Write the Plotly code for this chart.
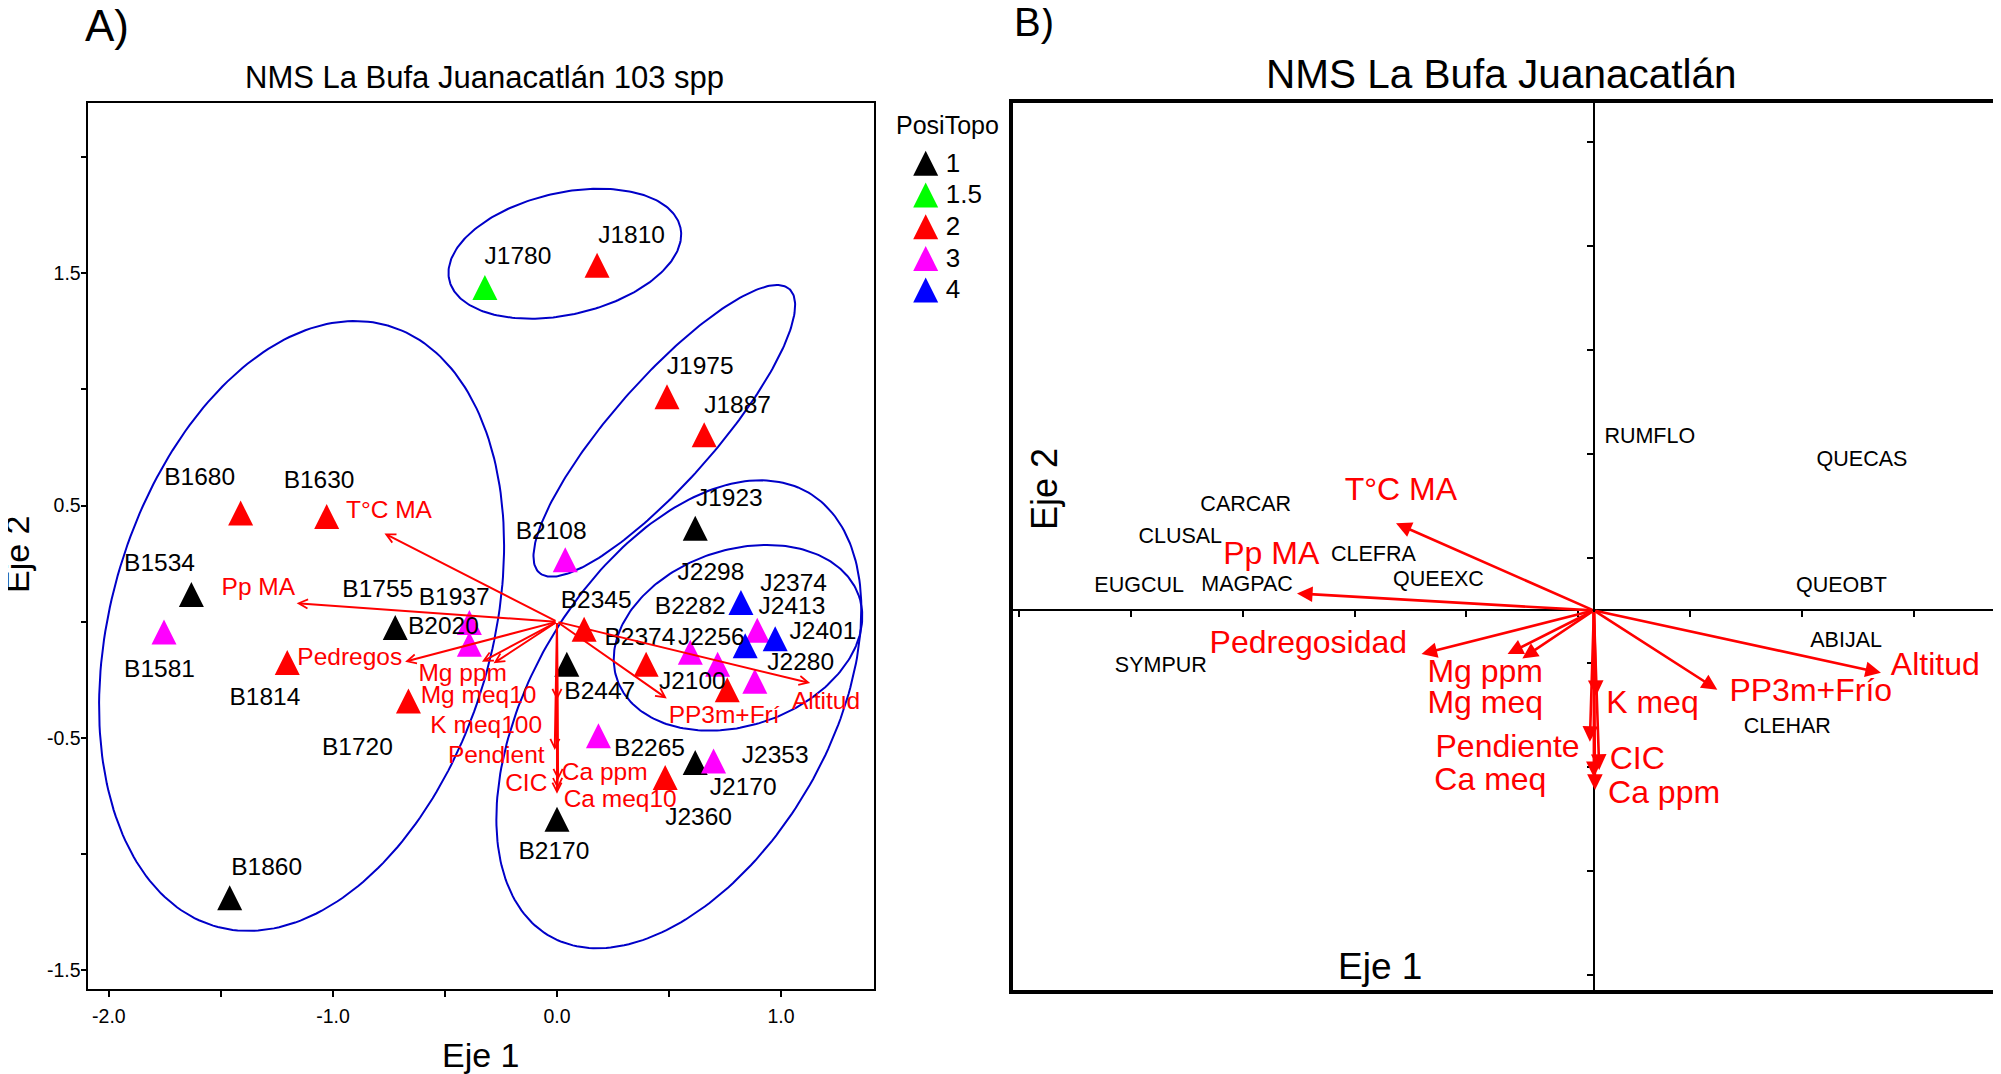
import numpy as np
import plotly.graph_objects as go

# the page body keeps its default 8 px margin, so the figure starts 8 px in
PAGE_W, PAGE_H, OFF = 2001, 1074, 8
FIG_W, FIG_H = PAGE_W - OFF, PAGE_H - OFF
FONT = "Liberation Sans, Arial, sans-serif"

# ---------------- Panel A : site scores (apex of the triangle marker) ----------------
site_names = ["B1534", "B1755", "B1860", "B2447", "J1923", "J2170", "B2170",
              "J1780",
              "J1810", "J1975", "J1887", "B1680", "B1630", "B1814", "B1720", "B2345",
              "B2374", "J2100", "J2360",
              "B2108", "B1581", "B1937", "B2020", "J2413", "J2256", "B2282", "J2280",
              "B2265", "J2353",
              "J2298", "J2401", "J2374"]
site_axis1 = [-1.632, -0.722, -1.461, 0.044, 0.617, 0.617, 0.000,
              -0.322,
              0.179, 0.491, 0.657, -1.412, -1.028, -1.204, -0.663, 0.121,
              0.398, 0.760, 0.483,
              0.037, -1.754, -0.391, -0.391, 0.894, 0.595, 0.717, 0.883,
              0.185, 0.699,
              0.821, 0.974, 0.840]
site_axis2 = [0.171, 0.029, -1.133, -0.129, 0.456, -0.552, -0.796,
              1.491,
              1.587, 1.022, 0.858, 0.521, 0.506, -0.122, -0.287, 0.022,
              -0.129, -0.239, -0.616,
              0.320, 0.010, 0.050, -0.043, 0.017, -0.078, -0.129, -0.202,
              -0.437, -0.545,
              0.136, -0.019, -0.049]
site_posi = [1] * 7 + [1.5] + [2] * 11 + [3] * 10 + [4] * 3
label_axis1 = [-1.774, -0.800, -1.296, 0.191, 0.769, 0.831, -0.014,
               -0.174,
               0.333, 0.639, 0.806, -1.595, -1.062, -1.304, -0.891, 0.175,
               0.370, 0.604, 0.632,
               -0.026, -1.774, -0.459, -0.507, 1.049, 0.689, 0.595, 1.088,
               0.413, 0.974,
               0.687, 1.187, 1.056]
label_axis2 = [0.246, 0.132, -1.062, -0.308, 0.526, -0.718, -0.994,
               1.566,
               1.655, 1.090, 0.925, 0.615, 0.600, -0.330, -0.547, 0.086,
               -0.074, -0.264, -0.850,
               0.383, -0.212, 0.099, -0.027, 0.058, -0.074, 0.058, -0.183,
               -0.552, -0.583,
               0.204, -0.047, 0.158]

posi_levels = [1, 1.5, 2, 3, 4]
posi_labels = ["1", "1.5", "2", "3", "4"]
posi_colors = ["#000000", "#00FF00", "#FF0000", "#FF00FF", "#0000FF"]

# group ellipses (centre, semi-axes in axis-1 units, tilt in degrees on screen)
ell_cx = [0.035, 0.479, -1.140, 0.544, 0.808]
ell_cy = [1.583, 0.821, -0.018, -0.398, -0.069]
ell_a = [0.529, 0.844, 1.395, 1.146, 0.571]
ell_b = [0.272, 0.229, 0.851, 0.664, 0.392]
ell_deg = [12.8, 48.6, 74.0, 59.65, 19.0]

# environmental vectors, panel A
envA_names = ["T°C MA", "Pp MA", "Pedregos", "Mg ppm", "Mg meq10", "K meq100",
              "Pendient", "CIC", "Ca ppm", "Ca meq10", "PP3m+Frí", "Altitud"]
envA_x = [-0.770, -1.162, -0.678, -0.335, -0.283, 0.000, -0.010, 0.005, 0.000, 0.003, 0.490, 1.130]
envA_y = [0.380, 0.080, -0.172, -0.172, -0.179, -0.337, -0.552, -0.681, -0.740, -0.720, -0.330, -0.264]
envA_lx = [-0.750, -1.333, -0.925, -0.421, -0.350, -0.316, -0.271, -0.137, 0.213, 0.282, 0.746, 1.201]
envA_ly = [0.474, 0.142, -0.161, -0.227, -0.323, -0.451, -0.582, -0.701, -0.656, -0.769, -0.410, -0.349]

xA_ticks = [-2.0, -1.5, -1.0, -0.5, 0.0, 0.5, 1.0]
xA_text = ["-2.0", "", "-1.0", "", "0.0", "", "1.0"]
yA_ticks = [-1.5, -1.0, -0.5, 0.0, 0.5, 1.0, 1.5, 2.0]
yA_text = ["-1.5", "", "-0.5", "", "0.5", "", "1.5", ""]

# ---------------- Panel B : species scores and vectors ----------------
spp_names = ["RUMFLO", "QUECAS", "CARCAR", "CLUSAL", "CLEFRA", "EUGCUL", "MAGPAC",
             "QUEEXC", "QUEOBT", "ABIJAL", "SYMPUR", "CLEHAR"]
spp_x = [0.250, 1.199, -1.557, -1.850, -0.986, -2.034, -1.551, -0.695, 1.107, 1.128, -1.937, 0.865]
spp_y = [0.828, 0.720, 0.505, 0.351, 0.265, 0.113, 0.118, 0.142, 0.113, -0.149, -0.270, -0.560]

envB_names = ["T°C MA", "Pp MA", "Pedregosidad", "Mg ppm", "Mg meq", "K meq",
              "Pendiente", "CIC", "Ca meq", "Ca ppm", "PP3m+Frío", "Altitud"]
envB_x = [-0.885, -1.328, -0.771, -0.386, -0.320, 0.010, -0.018, 0.024, 0.000, 0.005, 0.552, 1.284]
envB_y = [0.418, 0.082, -0.209, -0.209, -0.230, -0.410, -0.630, -0.765, -0.800, -0.861, -0.380, -0.299]
envB_lx = [-0.863, -1.443, -1.277, -0.486, -0.486, 0.262, -0.386, 0.194, -0.463, 0.314, 0.970, 1.527]
envB_ly = [0.567, 0.260, -0.168, -0.307, -0.454, -0.454, -0.667, -0.724, -0.825, -0.884, -0.394, -0.270]

xB_ticks = [-2.57, -2.07, -1.57, -1.07, -0.57, -0.07, 0.43, 0.93, 1.43]
yB_ticks = [-1.75, -1.25, -0.75, -0.25, 0.25, 0.75, 1.25, 1.75, 2.25]


# ---------------- layout geometry (page pixels -> paper fractions) ----------------
def px_x(p):
    return (p - OFF) / FIG_W


def px_y(p):
    return 1 - (p - OFF) / FIG_H


A_dom_x = [px_x(88.3), px_x(874.0)]
A_dom_y = [px_y(989.3), px_y(102.6)]
A_rng_x = [-2.092, 1.415]
A_rng_y = [-1.581, 2.233]

B_dom_x = [px_x(1012.8), px_x(1997.0)]
B_dom_y = [px_y(990.3), px_y(102.6)]
B_rng_x = [-2.599, 1.803]
B_rng_y = [-1.8225, 2.437]

L_dom_x = [px_x(913.2), px_x(1003.2)]
L_dom_y = [px_y(293.45), px_y(134.95)]

fig = go.Figure()

# ellipses
ax_px = (A_dom_x[1] - A_dom_x[0]) * FIG_W / (A_rng_x[1] - A_rng_x[0])
ay_px = (A_dom_y[1] - A_dom_y[0]) * FIG_H / (A_rng_y[1] - A_rng_y[0])
t = np.linspace(0, 2 * np.pi, 240)
for cx, cy, a, b, d in zip(ell_cx, ell_cy, ell_a, ell_b, ell_deg):
    th = np.radians(d)
    dx = a * np.cos(t) * np.cos(th) - b * np.sin(t) * np.sin(th)
    dy = (a * np.cos(t) * np.sin(th) + b * np.sin(t) * np.cos(th)) * ax_px / ay_px
    fig.add_trace(go.Scatter(x=cx + dx, y=cy + dy, mode="lines",
                             line=dict(color="#0000C8", width=2),
                             hoverinfo="skip", showlegend=False,
                             xaxis="x", yaxis="y"))

# site triangles
for lev, col in zip(posi_levels, posi_colors):
    xs = [x for x, g in zip(site_axis1, site_posi) if g == lev]
    ys = [y for y, g in zip(site_axis2, site_posi) if g == lev]
    fig.add_trace(go.Scatter(x=xs, y=ys, mode="markers",
                             marker=dict(symbol="arrow-up", size=25, color=col,
                                         line=dict(width=0)),
                             showlegend=False, cliponaxis=False,
                             xaxis="x", yaxis="y"))

# site labels
fig.add_trace(go.Scatter(x=label_axis1, y=label_axis2, text=site_names, mode="text",
                         textposition="middle center",
                         textfont=dict(family=FONT, size=24.5, color="black"),
                         showlegend=False, cliponaxis=False, xaxis="x", yaxis="y"))
# vector labels A
fig.add_trace(go.Scatter(x=envA_lx, y=envA_ly, text=envA_names, mode="text",
                         textposition="middle center",
                         textfont=dict(family=FONT, size=24.5, color="#FF0000"),
                         showlegend=False, cliponaxis=False, xaxis="x", yaxis="y"))

# legend (own small axes)
fig.add_trace(go.Scatter(x=[0] * len(posi_levels), y=[-i for i in range(len(posi_levels))],
                         mode="markers",
                         marker=dict(symbol="arrow-up", size=25, color=posi_colors,
                                     line=dict(width=0)),
                         showlegend=False, cliponaxis=False, xaxis="x3", yaxis="y3"))
fig.add_trace(go.Scatter(x=[1.6] * len(posi_levels), y=[-i - 0.45 for i in range(len(posi_levels))],
                         mode="text", text=posi_labels, textposition="middle right",
                         textfont=dict(family=FONT, size=26, color="black"),
                         showlegend=False, cliponaxis=False, xaxis="x3", yaxis="y3"))

# panel B species
fig.add_trace(go.Scatter(x=spp_x, y=spp_y, text=spp_names, mode="text",
                         textposition="middle center",
                         textfont=dict(family=FONT, size=21.5, color="black"),
                         showlegend=False, cliponaxis=False, xaxis="x2", yaxis="y2"))
fig.add_trace(go.Scatter(x=envB_lx, y=envB_ly, text=envB_names, mode="text",
                         textposition="middle center",
                         textfont=dict(family=FONT, size=32, color="#FF0000"),
                         showlegend=False, cliponaxis=False, xaxis="x2", yaxis="y2"))
# dummy trace so the centred axes of panel B get drawn
fig.add_trace(go.Scatter(x=[None], y=[None], mode="markers", showlegend=False,
                         xaxis="x4", yaxis="y4", hoverinfo="skip"))

annotations = []
for tx, ty in zip(envA_x, envA_y):
    annotations.append(dict(x=tx, y=ty, ax=0, ay=0, xref="x", yref="y", axref="x", ayref="y",
                            text="", showarrow=True, arrowhead=5, arrowsize=0.9,
                            arrowwidth=2, arrowcolor="#FF0000", standoff=0))
for tx, ty in zip(envB_x, envB_y):
    annotations.append(dict(x=tx, y=ty, ax=0, ay=0, xref="x2", yref="y2", axref="x2", ayref="y2",
                            text="", showarrow=True, arrowhead=2, arrowsize=1.2,
                            arrowwidth=2.6, arrowcolor="#FF0000", standoff=0))


def note(text, X, Y, size, angle=0, xanchor="center"):
    annotations.append(dict(text=text, x=px_x(X), y=px_y(Y), xref="paper", yref="paper",
                            showarrow=False, xanchor=xanchor, yanchor="middle",
                            textangle=angle, font=dict(family=FONT, size=size, color="black")))


note("A)", 107, 25, 44)
note("NMS La Bufa Juanacatlán 103 spp", 484, 78, 31)
note("Eje 1", 481, 1055, 34)
note("Eje 2", 17, 554, 34, angle=-90)
note("PosiTopo", 894, 125, 25, xanchor="left")
note("B)", 1034, 22, 40)
note("NMS La Bufa Juanacatlán", 1501, 74, 40.5)
note("Eje 2", 1045, 489, 36, angle=-90)
note("Eje 1", 1380, 967, 37)

# panel B centred axes position
posB_x_axis = B_dom_y[0] + (B_dom_y[1] - B_dom_y[0]) * (0 - B_rng_y[0]) / (B_rng_y[1] - B_rng_y[0])
posB_y_axis = B_dom_x[0] + (B_dom_x[1] - B_dom_x[0]) * (0 - B_rng_x[0]) / (B_rng_x[1] - B_rng_x[0])

fig.update_layout(
    width=FIG_W, height=FIG_H,
    margin=dict(l=0, r=0, t=0, b=0),
    paper_bgcolor="white", plot_bgcolor="rgba(0,0,0,0)",
    showlegend=False,
    font=dict(family=FONT, color="black"),
    annotations=annotations,
    xaxis=dict(domain=A_dom_x, range=A_rng_x, anchor="y", showgrid=False, zeroline=False,
               showline=True, mirror=True, linecolor="black", linewidth=1.5,
               ticks="outside", ticklen=6, tickwidth=1.5, tickcolor="black",
               ticklabelstandoff=3,
               tickvals=xA_ticks, ticktext=xA_text, tickfont=dict(size=19.5, family=FONT)),
    yaxis=dict(domain=A_dom_y, range=A_rng_y, anchor="x", showgrid=False, zeroline=False,
               showline=True, mirror=True, linecolor="black", linewidth=1.5,
               ticks="outside", ticklen=6, tickwidth=1.5, tickcolor="black",
               ticklabelstandoff=-4,
               tickvals=yA_ticks, ticktext=yA_text, tickfont=dict(size=19.5, family=FONT)),
    xaxis2=dict(domain=B_dom_x, range=B_rng_x, anchor="y2", showgrid=False, zeroline=False,
                showline=True, mirror=True, linecolor="black", linewidth=4,
                ticks="", showticklabels=False),
    yaxis2=dict(domain=B_dom_y, range=B_rng_y, anchor="x2", showgrid=False, zeroline=False,
                showline=True, mirror=True, linecolor="black", linewidth=4,
                ticks="", showticklabels=False),
    xaxis4=dict(overlaying="x2", anchor="free", position=posB_x_axis, range=B_rng_x,
                showgrid=False, zeroline=False, showline=True, linecolor="black", linewidth=2,
                ticks="outside", ticklen=6, tickwidth=2, tickcolor="black",
                tickvals=xB_ticks, showticklabels=False),
    yaxis4=dict(overlaying="y2", anchor="free", position=posB_y_axis, range=B_rng_y,
                showgrid=False, zeroline=False, showline=True, linecolor="black", linewidth=2,
                ticks="outside", ticklen=6, tickwidth=2, tickcolor="black",
                tickvals=yB_ticks, showticklabels=False),
    xaxis3=dict(domain=L_dom_x, range=[-1, 6.2], anchor="y3", visible=False, fixedrange=True),
    yaxis3=dict(domain=L_dom_y, range=[-4.5, 0.5], anchor="x3", visible=False, fixedrange=True),
)

fig.write_html("out.html")
